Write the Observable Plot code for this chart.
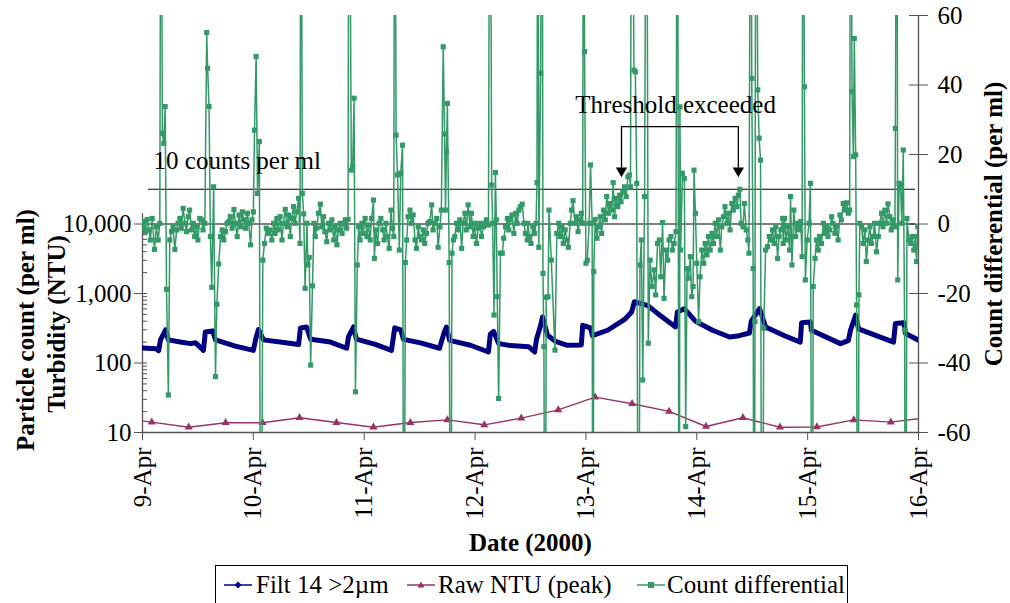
<!DOCTYPE html>
<html><head><meta charset="utf-8">
<script src="https://cdn.jsdelivr.net/npm/d3@7"></script>
<script src="https://cdn.jsdelivr.net/npm/@observablehq/plot@0.6"></script>
<style>
body{margin:0;background:#fff;}
#wrap{position:relative;width:1010px;height:603px;overflow:hidden;font-family:"Liberation Serif",serif;background:#fff;}
#legend{position:absolute;left:215px;top:565px;width:633px;height:50px;border:1px solid #000;box-sizing:border-box;font-size:25px;background:#fff;}
.sw{position:absolute;top:9px;}
.lt{position:absolute;top:6px;line-height:25px;white-space:nowrap;color:#000;}
</style></head><body>
<div id="wrap"><div id="chart"></div>
<div id="legend">
<svg class="sw" style="left:8px" width="28" height="20"><line x1="0" y1="10" x2="28" y2="10" stroke="#000080" stroke-width="1.5"/><path d="M14,6.5L17.5,10L14,13.5L10.5,10Z" fill="#000080"/></svg>
<span class="lt" style="left:40px">Filt 14 &gt;2µm</span>
<svg class="sw" style="left:191px" width="28" height="20"><line x1="0" y1="10" x2="28" y2="10" stroke="#993366" stroke-width="1.5"/><path d="M14,6.5L17.5,12.5L10.5,12.5Z" fill="#993366"/></svg>
<span class="lt" style="left:222px">Raw NTU (peak)</span>
<svg class="sw" style="left:421px" width="28" height="20"><line x1="0" y1="10" x2="28" y2="10" stroke="#339966" stroke-width="1.5"/><rect x="11" y="7" width="6" height="6" fill="#339966"/></svg>
<span class="lt" style="left:451px">Count differential</span>
</div></div>
<script>
// x in hours since 9-Apr 00:00
const dayTicks = [0, 24, 48, 72, 96, 120, 144, 168];
const dayLabels = ["9-Apr", "10-Apr", "11-Apr", "12-Apr", "13-Apr", "14-Apr", "15-Apr", "16-Apr"];
const leftTicks = [10, 100, 1000, 10000];
const leftMinor = [20,30,40,50,60,70,80,90,200,300,400,500,600,700,800,900,2000,3000,4000,5000,6000,7000,8000,9000];
const rightTicks = [-60, -40, -20, 0, 20, 40, 60];
const thresholdLevels = [0, 10];

// Filt 14 >2um (per ml), left log axis
const filtHours = [0,3.0,3.5,3.9,5.0,5.6,8.2,10.4,11.5,13.2,
13.6,15.2,15.8,20.1,24.0,24.5,25.1,26.2,31.0,33.8,
34.2,35.5,36.4,40.7,44.2,44.6,45.7,46.3,50.4,53.9,
54.6,55.9,56.5,60.2,64.3,65.2,65.8,66.5,71.0,74.9,
75.3,76.0,77.1,79.7,83.6,84.9,85.3,86.2,86.6,87.7,
89.4,92.0,95.0,95.3,97.0,97.4,100.7,104.3,105.9,106.5,
109.3,111.3,115.4,115.8,117.3,119.7,123.4,127.1,129.2,131.4,
131.8,133.6,134.9,139.0,142.4,142.7,144.6,144.8,151.1,152.8,
153.3,154.4,155.0,162.6,163.0,164.8,165.2,168.0];
const filtValues = [165,160,150,215,300,215,200,190,195,152,
280,290,215,175,152,220,302,215,195,185,
320,330,220,200,163,240,330,220,185,152,
320,300,219,195,163,260,330,212,180,144,
260,285,190,178,172,144,220,350,460,250,
205,180,182,349,320,247,296,420,543,760,
676,530,330,540,605,400,296,237,247,270,
400,605,330,247,200,380,390,296,190,210,
300,490,310,200,370,380,265,213];

// Raw NTU (peak), left log axis
const ntuHours = [-6,2,10,18,26,34,42,50,58,66,74,82,90,98,106,114,122,130,138,146,154,162,170];
const ntuValues = [16.5,14.1,11.9,13.8,13.8,16.3,13.9,11.9,13.9,15.2,12.9,16.1,21.2,32.3,25.9,20.1,12.2,16.3,11.9,12.0,15.2,14.1,16.4];

// Count differential (per ml), right linear axis (values beyond +-60 run off the chart)
const diffHours = [0.0,0.3,0.65,1.0,1.4,1.7,2.1,2.6,3.0,3.4,
3.75,4.0,4.3,4.6,4.9,5.2,5.6,5.9,6.3,6.6,
7.0,7.4,7.7,8.1,8.4,8.8,9.2,9.5,9.9,10.2,
10.6,11.0,11.3,11.7,12.0,12.4,12.8,13.1,13.5,13.9,
14.1,14.4,14.7,15.0,15.4,15.8,16.1,16.5,16.9,17.25,
17.6,18.0,18.3,18.7,19.0,19.4,19.8,20.1,20.5,20.9,
21.2,21.6,22.0,22.3,22.7,23.0,23.4,23.7,24.0,24.25,
24.6,24.9,25.3,25.6,26.05,26.4,26.8,27.3,
27.6,28.0,28.4,28.7,29.1,29.4,29.8,30.2,30.5,30.9,
31.3,31.6,32.0,32.3,32.7,33.05,33.4,33.8,34.1,34.3,
34.6,34.9,35.2,35.6,35.8,36.1,36.4,36.8,37.1,37.4,
37.7,38.1,38.5,38.8,39.2,39.5,39.9,40.3,40.6,41.0,
41.4,41.7,42.1,42.4,42.8,43.2,43.5,43.9,44.2,44.5,
44.7,45.2,45.5,45.8,46.1,46.5,46.8,47.1,47.5,47.8,
48.2,48.6,48.9,49.3,49.6,50.0,50.2,50.5,50.9,51.2,
51.6,52.0,52.3,52.7,53.0,53.4,53.8,54.1,54.4,54.6,
54.9,55.2,
55.6,55.9,56.3,56.6,56.9,57.2,57.5,57.9,58.2,58.6,
59.0,59.3,59.7,60.0,60.4,60.8,61.1,61.5,61.8,62.2,
62.6,62.9,63.3,63.7,64.0,64.4,64.7,65.1,65.4,65.6,
65.8,66.0,66.4,66.7,67.0,67.3,67.6,68.0,68.3,68.7,
69.1,69.4,69.8,70.1,70.5,70.9,71.2,71.6,71.9,72.3,
72.7,73.0,73.4,73.8,74.1,74.5,74.9,75.2,75.6,75.8,
76.1,76.4,76.6,76.8,77.1,77.5,77.9,78.2,78.6,79.0,
79.3,79.7,80.0,80.4,80.8,81.1,81.5,81.8,82.2,82.6,
82.9,83.3,
83.4,83.8,84.1,84.5,84.9,85.2,85.4,85.6,85.8,86.2,
86.5,86.7,86.9,87.2,87.4,87.8,88.0,88.5,89.3,89.7,
90.1,90.4,90.8,91.1,91.5,91.9,92.2,92.6,92.9,93.2,
93.6,93.95,94.3,94.7,95.0,95.3,95.5,95.7,96.0,96.3,
96.7,97.0,97.35,97.5,97.7,98.0,98.4,98.7,99.1,99.4,
99.8,100.2,100.5,100.9,101.2,101.6,101.9,102.2,102.5,102.9,
103.3,103.6,104.0,104.35,104.7,105.1,105.4,105.65,105.9,106.4,
106.7,107.0,107.4,107.7,108.0,108.3,108.7,109.1,109.5,109.9,
110.3,
110.8,111.1,111.5,111.9,112.2,112.6,112.9,113.3,113.7,114.0,
114.4,114.7,115.1,115.5,115.8,116.2,116.35,116.5,116.9,117.3,117.6,
117.9,118.2,118.6,118.9,119.2,119.4,119.7,120.0,120.4,120.7,
121.1,121.5,121.8,122.2,122.5,122.9,123.3,123.6,124.0,124.3,
124.7,125.1,125.4,125.8,126.1,126.5,126.9,127.2,127.6,127.9,
128.3,128.7,129.0,129.3,129.6,130.0,130.3,130.7,131.05,131.3,
131.7,131.9,132.2,132.4,132.6,132.8,133.2,133.5,133.8,134.1,
134.5,134.9,135.3,135.7,136.0,136.4,136.75,137.1,137.5,137.8,
138.2,138.6,
138.7,139.0,139.3,139.7,140.1,140.3,140.6,141.0,141.4,141.7,
142.1,142.5,142.8,143.0,143.3,143.5,143.9,144.3,144.6,145.0,
145.2,145.6,145.9,146.3,146.6,147.0,147.4,147.7,148.1,148.4,
148.8,149.2,149.5,149.9,150.2,150.6,151.0,151.3,151.7,152.05,
152.4,152.8,153.1,153.3,153.6,153.9,154.1,154.4,154.6,154.9,
155.1,155.3,155.7,156.0,156.4,156.7,157.1,157.5,157.8,158.2,
158.5,158.9,159.3,159.6,160.0,160.3,160.7,161.1,161.4,161.8,
162.1,162.5,162.9,163.0,163.3,163.5,163.8,164.1,164.4,164.7,
165.0,165.2,165.5,165.9,166.3,166.6,166.98,167.3,167.6,167.85];
const diffValues = [-1.2,0.7,-2.2,1.3,-1.7,-4.6,1.6,-7.3,-0.8,-4.6,
0.2,150,26.1,23.2,33.8,-18.8,-49.2,-4.6,-2.2,-0.8,
-7.3,-1.7,0.2,1.6,-1.2,4.5,0.2,-2.2,2.1,4.0,
-1.7,0.2,-3.6,-0.8,-4.6,1.6,1.2,-1.7,0.2,55.1,
44.8,33.8,-3.6,-18.2,10.7,-43.9,-23.1,-11.5,-3.6,-1.7,
-4.6,-2.2,0.2,0.7,2.1,-1.2,4.2,0.2,-3.6,2.6,
-0.8,3.5,1.2,-1.2,3.1,0.2,-6.0,1.2,3.5,27.0,
48.2,8.8,23.7,-150,-10.4,-5.6,-1.2,-2.7,
-1.7,-4.6,0.2,-2.7,1.6,-1.7,2.1,-4.6,0.2,4.2,
-0.8,2.6,-3.6,1.6,5.0,0.2,3.5,7.4,-5.6,150,
8.8,2.9,-18.5,0.2,-11.8,-9.6,-40.6,-17.8,0.2,-3.6,
-1.2,3.1,5.7,-0.8,2.1,-2.2,-5.1,0.2,-1.7,1.2,
-4.6,-0.8,-6.0,-1.7,0.2,-2.7,0.2,1.2,-1.2,1.3,
150,15.5,16.5,36.2,-48.3,-11.8,-0.8,-4.6,0.2,-2.7,
1.6,-3.6,-0.3,-4.6,1.6,6.9,-9.9,-1.7,-5.6,0.2,
1.6,-1.7,-4.6,0.2,-3.6,-7.0,4.0,-1.2,-3.6,150,
25.6,14.1,
-7.5,14.6,22.7,-150,-11.1,-4.6,2.1,4.0,0.2,2.6,
-4.6,-7.0,-0.8,-3.6,-4.6,-1.7,-5.6,-2.7,0.2,0.7,
5.5,-1.7,0.2,1.6,-6.7,-0.8,4.0,51.0,25.9,4.0,
20.8,34.7,-11.1,-150,-8.4,-4.6,-3.6,0.2,-1.7,1.2,
-7.0,0.2,3.1,-1.7,5.5,-0.8,3.1,-3.6,0.2,-5.6,
-1.2,0.2,-3.6,-0.8,0.2,1.2,-0.3,150,11.2,0.2,
-26.2,14.8,1.2,-20.9,-50.2,-8.4,-8.4,-4.1,-0.8,1.6,
-1.7,1.2,2.6,-2.7,3.1,0.2,4.0,5.0,5.7,0.2,
-2.7,-4.6,
0.2,-3.6,-5.6,-0.8,-2.7,0.2,11.9,150,-6.7,43.4,
150,-14.2,-35.3,-150,-21.1,-20.9,4.0,-10.4,-36.3,-2.7,
0.2,-3.6,-0.8,-5.6,-1.7,-4.6,-6.7,0.2,4.0,6.7,
0.2,2.1,-2.2,1.2,3.1,0.2,150,49.6,-11.3,-10.4,
0.2,17.0,0.2,-150,-13.7,1.3,-4.1,-0.8,2.1,-2.7,
4.0,1.2,7.9,3.1,5.9,4.0,11.9,2.1,7.4,5.0,
8.3,6.4,9.3,10.7,7.9,13.6,14.1,10.7,150,44.3,
43.8,11.7,-150,-11.8,-4.6,-44.9,7.9,150,-34.3,-10.4,
-18.0,
-13.2,-20.4,-5.6,-4.6,-15.2,0.4,-21.4,-7.5,-10.4,-4.6,
-3.6,-7.5,-5.6,-2.2,150,-150,33.7,-7.5,14.6,13.1,-58.3,
-12.8,-15.6,-9.4,-20.9,-18.0,15.5,3.1,-11.3,-28.1,-15.2,
-7.5,-11.3,-5.6,-8.9,-3.6,-7.5,-2.7,-5.6,0.2,-3.6,
1.2,-7.5,-0.8,2.1,5.0,0.2,3.1,-1.7,5.9,4.0,
7.4,5.0,8.3,10.0,0.2,-0.8,5.9,-1.7,-4.6,-8.4,
150,41.9,-12.8,-150,-28.1,150,38.6,24.7,18.4,-150,
-30.0,-7.5,-6.5,-3.6,-4.6,-1.7,-5.6,-0.8,-9.9,-3.6,
-1.7,1.6,
-5.6,1.6,-4.6,-0.8,-7.5,7.9,-11.8,4.0,-3.6,0.2,
-1.7,0.7,-9.4,150,39.5,-16.1,-4.6,0.2,11.7,-150,
-18.0,-9.9,-4.6,-7.5,-3.6,-5.6,0.2,-2.7,-0.8,-3.6,
-1.7,2.1,0.2,-2.7,-0.8,-4.6,2.6,1.2,5.9,4.0,
6.1,3.1,4.0,150,38.1,19.4,53.4,19.9,-23.3,-150,
-20.4,0.2,-0.8,-5.6,-1.7,-10.8,-4.6,-0.8,-5.6,-3.6,
0.2,-8.0,-3.6,0.2,3.1,-0.8,4.0,0.2,5.8,2.1,
-1.7,1.2,-0.8,27.5,150,-16.1,11.7,11.2,0.2,21.3,
-30.5,-150,1.6,-4.6,-5.6,-3.6,-7.5,-3.6,-10.8,-0.8];

// right axis (-60..60 linear) mapped onto the left log axis (10..1e7): 20 units per decade, 0 <-> 10,000
const toLog = r => Math.pow(10, 4 + r / 20);
const pxPerHour = 776 / 168;

const filt = filtHours.map((h, i) => ({h, v: filtValues[i]}));
const ntu = ntuHours.map((h, i) => ({h, v: ntuValues[i]}));
const n = Math.min(diffHours.length, diffValues.length);
const diff = diffHours.slice(0, n).map((h, i) => ({h, v: toLog(diffValues[i])}));

const bracket = [{h: 103.7, r: 15.6}, {h: 103.7, r: 28.0}, {h: 129.0, r: 28.0}, {h: 129.0, r: 15.6}];
const heads = [{h: 103.7, r: 15.3}, {h: 129.0, r: 15.3}];

const FONT = '"Liberation Serif", "Times New Roman", serif';
const chart = Plot.plot({
  width: 1010, height: 603,
  marginLeft: 142, marginRight: 92, marginTop: 15, marginBottom: 171,
  style: {fontFamily: FONT, fontSize: "25px", color: "#000", background: "#fff"},
  x: {type: "linear", domain: [0, 168]},
  y: {type: "log", domain: [10, 1e7]},
  marks: [
    // axes
    Plot.ruleY([10], {stroke: "#555", strokeWidth: 1.3}),
    Plot.ruleX([0], {y1: 10, y2: 14000, stroke: "#555", strokeWidth: 1.3}),
    Plot.ruleX([168], {y1: 10, y2: 1e7, stroke: "#555", strokeWidth: 1.3}),
    Plot.axisX({ticks: dayTicks, tickFormat: d => dayLabels[dayTicks.indexOf(d)], tickRotate: -90,
      tickSize: 8, tickPadding: 7, label: null, fontSize: 25, stroke: "#555"}),
    Plot.axisY({anchor: "left", ticks: leftTicks, tickFormat: d3.format(","), tickSize: 8, tickPadding: 3,
      label: null, fontSize: 25, stroke: "#555"}),
    Plot.ruleY(leftTicks, {x1: 0, x2: 5 / pxPerHour, stroke: "#555"}),
    Plot.ruleY(leftMinor, {x1: 0, x2: 5 / pxPerHour, stroke: "#555"}),
    Plot.axisY({anchor: "right", ticks: rightTicks.map(toLog),
      tickFormat: d => String(Math.round(20 * (Math.log10(d) - 4)) || 0),
      tickSize: 9, tickPadding: 10, label: null, fontSize: 25, stroke: "#555"}),
    Plot.ruleY(rightTicks.map(toLog), {x1: 168 - 9 / pxPerHour, x2: 168, stroke: "#555"}),
    // axis titles
    Plot.text(["Date (2000)"], {frameAnchor: "bottom", dy: 110, textAnchor: "middle", lineAnchor: "middle", fontWeight: "bold", fontSize: 25}),
    Plot.text(["Particle count (per ml)"], {frameAnchor: "left", rotate: -90, dx: -117, dy: 106, textAnchor: "middle", lineAnchor: "middle", fontWeight: "bold", fontSize: 25}),
    Plot.text(["Turbidity (NTU)"], {frameAnchor: "left", rotate: -90, dx: -86, dy: 100, textAnchor: "middle", lineAnchor: "middle", fontWeight: "bold", fontSize: 25}),
    Plot.text(["Count differential (per ml)"], {frameAnchor: "right", rotate: -90, dx: 75, textAnchor: "middle", lineAnchor: "middle", fontWeight: "bold", fontSize: 25}),
    // threshold lines
    Plot.ruleY(thresholdLevels.map(toLog), {x1: 6 / pxPerHour, x2: 168 - 3 / pxPerHour, stroke: "#000", strokeWidth: 1.2}),
    // series
    Plot.line(filt, {x: "h", y: "v", stroke: "#000080", strokeWidth: 5, strokeLinejoin: "round", strokeLinecap: "round", clip: true}),
    Plot.line(ntu, {x: "h", y: "v", stroke: "#993366", strokeWidth: 1.4, clip: true}),
    Plot.dot(ntu, {x: "h", y: "v", symbol: "triangle", r: 3, fill: "#993366", stroke: null, clip: true}),
    Plot.line(diff, {x: "h", y: "v", stroke: "#339966", strokeWidth: 1.5, clip: true}),
    Plot.dot(diff, {x: "h", y: "v", symbol: "square", r: 2.9, fill: "#339966", stroke: null, clip: true}),
    // annotations
    Plot.text([{h: 2.4, r: 15.8, t: "10 counts per ml"}], {x: "h", y: d => toLog(d.r), text: "t", textAnchor: "start", lineAnchor: "bottom", fontSize: 25}),
    Plot.text([{h: 93.7, r: 32.0, t: "Threshold exceeded"}], {x: "h", y: d => toLog(d.r), text: "t", textAnchor: "start", lineAnchor: "bottom", fontSize: 25}),
    Plot.line(bracket, {x: "h", y: d => toLog(d.r), stroke: "#000", strokeWidth: 1.3}),
    Plot.dot(heads, {x: "h", y: d => toLog(d.r), symbol: "triangle", rotate: 180, r: 4.2, fill: "#000", stroke: null})
  ]
});
document.getElementById("chart").appendChild(chart);
</script>
</body></html>
